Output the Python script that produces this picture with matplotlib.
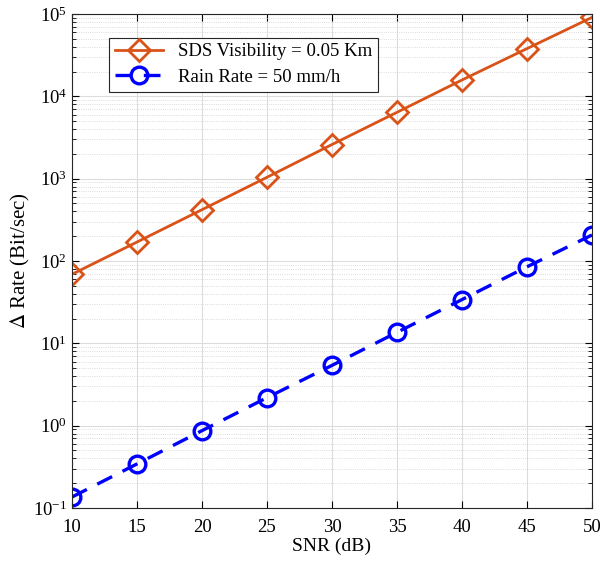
import matplotlib.pyplot as plt
import numpy as np

# SNR en dB y diferencia de tasa (Bit/sec)
snr = [10, 15, 20, 25, 30, 35, 40, 45, 50]
rate_sds = [69, 170, 420, 1040, 2600, 6400, 15800, 38000, 91000]
rate_rain = [0.136, 0.343, 0.87, 2.19, 5.4, 13.6, 34, 85, 207]

plt.rcParams['font.family'] = ['Liberation Serif', 'DejaVu Serif']
plt.rcParams['mathtext.fontset'] = 'stix'

fig = plt.figure(figsize=(6.02, 5.65), dpi=100)
ax = fig.add_axes([72/602, 1 - 508/565, 520/602, 494/565])

ax.semilogy(snr, rate_sds, '-D', color='#D95319', lw=2, ms=11,
            mfc='none', mew=2, label='SDS Visibility = 0.05 Km')
ax.semilogy(snr, rate_rain, '--o', color='#0000FF', lw=2.4, ms=12,
            mfc='none', mew=2.4, dashes=(5, 3.5), label='Rain Rate = 50 mm/h')

ax.set_xlim(10, 50)
ax.set_ylim(1e-1, 1e5)
ax.set_xticks(np.arange(10, 51, 5))
ax.grid(True, which='major', color='#dcdcdc', lw=0.8)
ax.grid(True, which='minor', color='#d0d0d0', lw=0.6, ls=':')
ax.tick_params(which='both', direction='in', top=True, right=True, labelsize=13.5)
ax.tick_params(which='major', length=5)
ax.tick_params(which='minor', length=3)
ax.tick_params(axis='x', pad=8)
for s in ax.spines.values():
    s.set_color('#262626')
    s.set_linewidth(0.8)

ax.set_xlabel('SNR (dB)', fontsize=14, labelpad=1)
ax.set_ylabel(r'$\Delta$ Rate (Bit/sec)', fontsize=15, labelpad=1)

leg = ax.legend(loc='upper left', bbox_to_anchor=(0.053, 0.971), fontsize=13.5,
                fancybox=False, edgecolor='#262626', framealpha=1,
                handlelength=2.6, borderpad=0.3, labelspacing=0.45)
leg.get_frame().set_linewidth(0.8)

fig.savefig('out.png', dpi=100)
